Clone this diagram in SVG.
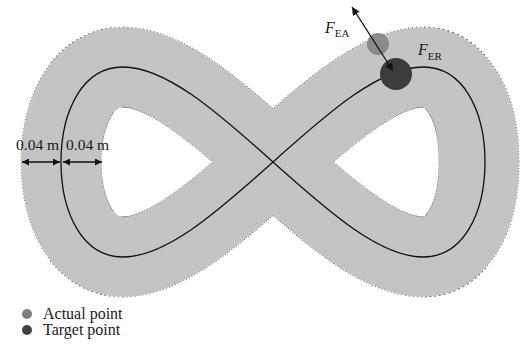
<svg xmlns="http://www.w3.org/2000/svg" width="520" height="358" viewBox="0 0 520 358">
<style>
.lbl{font-family:"Liberation Serif","Times New Roman",serif;fill:#1a1a1a}
.dim{font-size:15.5px}
.leg{font-size:16px}
.ital{font-style:italic;font-size:16px}
.sub{font-size:11px}
.band-edge{fill:none;stroke:#555;stroke-width:80.8;stroke-dasharray:1 1.5}
.band{fill:none;stroke:#c4c4c4;stroke-width:79.6}
.track{fill:none;stroke:#111;stroke-width:1.3}
.arr{fill:none;stroke:#111;stroke-width:1.3}
</style>
<defs>
<path id="bandPath" d="M479,162 C479,186.87 475.1,211.59 464.5,229.18 C453.9,246.77 442.53,257 422.91,257 C403.29,257 379.77,246.77 354.13,229.18 C328.49,211.59 300.75,186.87 273,162 C245.25,137.13 217.51,112.41 191.87,94.82 C166.23,77.23 142.71,67 123.09,67 C103.47,67 87.76,77.23 77.14,94.82 C66.52,112.41 61,137.13 61,162 C61,186.87 66.52,211.59 77.14,229.18 C87.76,246.77 103.47,257 123.09,257 C142.71,257 166.23,246.77 191.87,229.18 C217.51,211.59 245.25,186.87 273,162 C300.75,137.13 328.49,112.41 354.13,94.82 C379.77,77.23 403.29,67 422.91,67 C442.53,67 453.9,77.23 464.5,94.82 C475.1,112.41 479,137.13 479,162 Z"/>
<marker id="ah" viewBox="0 0 10 10" refX="10" refY="5" markerWidth="10" markerHeight="8" markerUnits="userSpaceOnUse" orient="auto-start-reverse">
<path d="M0,0 L10,5 L0,10 Z" fill="#111"/>
</marker>
<marker id="ahs" viewBox="0 0 10 10" refX="10" refY="5" markerWidth="7" markerHeight="7" markerUnits="userSpaceOnUse" orient="auto-start-reverse">
<path d="M0,0 L10,5 L0,10 Z" fill="#111"/>
</marker>
</defs>
<rect width="520" height="358" fill="#fff"/>
<g id="tolerance-band">
<use href="#bandPath" class="band-edge"/>
<use href="#bandPath" class="band"/>
</g>
<g id="trajectory">
<path class="track" d="M485,162 C485,186.87 479.48,211.59 468.86,229.18 C458.24,246.77 442.53,257 422.91,257 C403.29,257 379.77,246.77 354.13,229.18 C328.49,211.59 300.75,186.87 273,162 C245.25,137.13 217.51,112.41 191.87,94.82 C166.23,77.23 142.71,67 123.09,67 C103.47,67 87.76,77.23 77.14,94.82 C66.52,112.41 61,137.13 61,162 C61,186.87 66.52,211.59 77.14,229.18 C87.76,246.77 103.47,257 123.09,257 C142.71,257 166.23,246.77 191.87,229.18 C217.51,211.59 245.25,186.87 273,162 C300.75,137.13 328.49,112.41 354.13,94.82 C379.77,77.23 403.29,67 422.91,67 C442.53,67 458.24,77.23 468.86,94.82 C479.48,112.41 485,137.13 485,162 Z"/>
</g>
<g id="actual-point">
<circle cx="378" cy="44" r="11" fill="#8a8a8a"/>
</g>
<g id="target-point">
<circle cx="396" cy="74" r="16" fill="#3a3b3a"/>
</g>
<g id="connectors">
<line class="arr" x1="352" y1="7" x2="393" y2="71" marker-start="url(#ah)" marker-end="url(#ah)"/>
<line class="arr" x1="22" y1="162" x2="60" y2="162" marker-start="url(#ahs)" marker-end="url(#ahs)"/>
<line class="arr" x1="63" y1="162" x2="102" y2="162" marker-start="url(#ahs)" marker-end="url(#ahs)"/>
</g>
<g id="labels" class="lbl">
<text x="325" y="33"><tspan class="ital">F</tspan><tspan class="sub" dy="4">EA</tspan></text>
<text x="418" y="55"><tspan class="ital">F</tspan><tspan class="sub" dy="5">ER</tspan></text>
<text class="dim" x="16" y="150">0.04 m</text>
<text class="dim" x="66" y="150">0.04 m</text>
</g>
<g id="legend" class="lbl">
<circle cx="27" cy="314" r="5" fill="#808080"/>
<circle cx="27" cy="330" r="5" fill="#404040"/>
<text class="leg" x="43" y="319">Actual point</text>
<text class="leg" x="43" y="335">Target point</text>
</g>
</svg>
